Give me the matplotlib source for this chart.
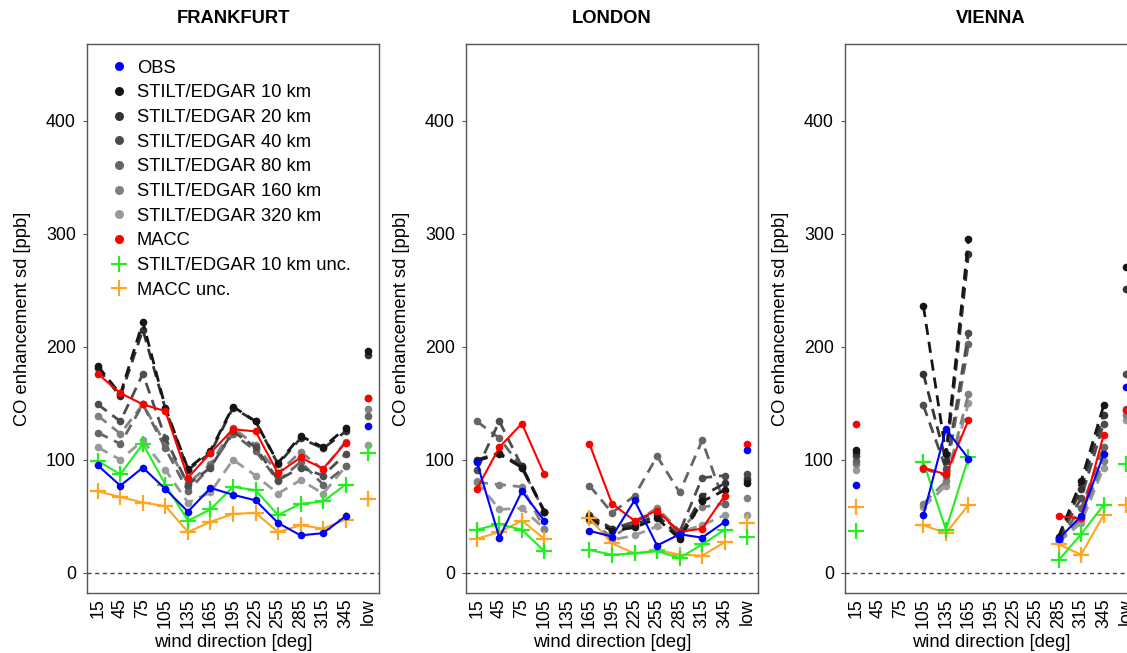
import numpy as np
import matplotlib
matplotlib.use("Agg")
import matplotlib.pyplot as plt
from matplotlib.lines import Line2D

plt.rcParams['font.family'] = ['Liberation Sans', 'DejaVu Sans']

nan = np.nan

# wind direction sectors plus the "low" wind class
directions = ['15', '45', '75', '105', '135', '165', '195', '225', '255', '285', '315', '345', 'low']

# FRANKFURT
fra_obs = [95, 77, 93, 74, 54, 75, 69, 64, 44, 33, 35, 50, 130]
fra_s10 = [183, 158, 222, 146, 92, 108, 147, 134, 97, 121, 111, 128, 196]
fra_s20 = [181, 156, 215, 145, 91, 106, 146, 134, 96, 119, 110, 125, 193]
fra_s40 = [149, 134, 176, 119, 78, 93, 125, 111, 82, 93, 86, 105, 155]
fra_s80 = [124, 114, 149, 110, 72, 94, 123, 108, 81, 98, 78, 94, 139]
fra_s160 = [139, 123, 149, 114, 79, 96, 128, 113, 88, 107, 91, 116, 145]
fra_s320 = [111, 100, 117, 91, 62, 71, 100, 86, 70, 82, 70, 94, 113]
fra_macc = [176, 159, 149, 143, 84, 106, 127, 125, 88, 102, 92, 115, 155]
fra_unc10 = [99, 87, 114, 78, 46, 56, 76, 73, 51, 61, 63, 78, 106]
fra_uncmacc = [72, 67, 62, 59, 36, 45, 52, 53, 36, 42, 39, 47, 65]

# LONDON
lon_obs = [98, 31, 72, 46, nan, 37, 32, 64, 24, 34, 31, 45, 109]
lon_s10 = [99, 105, 93, 54, nan, 48, 37, 40, 48, 30, 63, 73, 79]
lon_s20 = [100, 106, 94, 54, nan, 50, 39, 42, 51, 32, 68, 79, 82]
lon_s40 = [91, 134, 94, 54, nan, 51, 39, 45, 54, 36, 84, 86, 87]
lon_s80 = [134, 119, 93, 54, nan, 77, 53, 68, 103, 71, 117, 61, 84]
lon_s160 = [80, 78, 76, 39, nan, 47, 31, 45, 57, 37, 58, 61, 66]
lon_s320 = [81, 56, 57, 39, nan, 48, 29, 33, 41, 36, 42, 51, 51]
lon_macc = [74, 111, 132, 87, nan, 114, 61, 46, 55, 36, 39, 68, 114]
lon_unc10 = [38, 43, 38, 19, nan, 20, 16, 17, 19, 13, 25, 38, 32]
lon_uncmacc = [30, 36, 46, 30, nan, 48, 26, 17, 20, 16, 15, 27, 44]

# VIENNA
vie_obs = [78, nan, nan, 51, 127, 101, nan, nan, nan, 30, 50, 105, 164]
vie_s10 = [109, nan, nan, 236, 105, 295, nan, nan, nan, 32, 81, 148, 271]
vie_s20 = [106, nan, nan, 176, 99, 282, nan, nan, nan, 31, 74, 140, 251]
vie_s40 = [103, nan, nan, 148, 92, 212, nan, nan, nan, 30, 66, 132, 176]
vie_s80 = [99, nan, nan, 92, 86, 202, nan, nan, nan, 29, 57, 111, 145]
vie_s160 = [96, nan, nan, 61, 81, 158, nan, nan, nan, 28, 48, 99, 140]
vie_s320 = [91, nan, nan, 58, 77, 150, nan, nan, nan, 27, 44, 93, 135]
vie_macc = [132, nan, nan, 93, 87, 135, nan, nan, nan, 50, 48, 122, 144]
vie_unc10 = [37, nan, nan, 98, 38, 102, nan, nan, nan, 11, 34, 60, 96]
vie_uncmacc = [58, nan, nan, 42, 35, 60, nan, nan, nan, 25, 16, 51, 60]

stilt_labels = ['STILT/EDGAR 10 km', 'STILT/EDGAR 20 km', 'STILT/EDGAR 40 km',
                'STILT/EDGAR 80 km', 'STILT/EDGAR 160 km', 'STILT/EDGAR 320 km']
stilt_colors = ['#151515', '#333333', '#4d4d4d', '#666666', '#808080', '#999999']
c_obs = '#0000ff'
c_macc = '#ff0000'
c_unc10 = '#22ee22'
c_uncmacc = '#ffa521'

FS = 13.2
FS_TICK = 12.8


def plot_city(ax, title, obs, stilt, macc, unc10, uncmacc):
    x = np.arange(len(directions))
    xd = x[:-1]  # connected sectors, "low" drawn as single points
    ax.axhline(0, color='#444444', ls=(0, (3, 2.5)), lw=1, zorder=1)

    # STILT runs, coarsest first so that 10 km sits on top
    for vals, col in reversed(list(zip(stilt, stilt_colors))):
        v = np.array(vals, dtype=float)
        ax.plot(xd, v[:-1], color=col, ls=(0, (4, 2.5)), lw=2, marker='o', ms=5.5, mec='none', zorder=3)
        ax.plot(x[-1], v[-1], color=col, marker='o', ms=5.5, mec='none', zorder=3)

    for vals, col in [(uncmacc, c_uncmacc), (unc10, c_unc10)]:
        v = np.array(vals, dtype=float)
        ax.plot(xd, v[:-1], color=col, lw=1.5, marker='+', ms=12, mew=1.6, zorder=4)
        ax.plot(x[-1], v[-1], color=col, marker='+', ms=12, mew=1.6, zorder=4)

    for vals, col in [(macc, c_macc), (obs, c_obs)]:
        v = np.array(vals, dtype=float)
        ax.plot(xd, v[:-1], color=col, lw=1.5, marker='o', ms=5.5, mec='none', zorder=5)
        ax.plot(x[-1], v[-1], color=col, marker='o', ms=5.5, mec='none', zorder=5)

    ax.set_xlim(-0.48, 12.48)
    ax.set_ylim(-18, 468)
    ax.set_xticks(x)
    ax.set_xticklabels(directions, rotation=90, fontsize=FS_TICK)
    ax.set_yticks([0, 100, 200, 300, 400])
    ax.tick_params(axis='y', labelsize=FS_TICK, length=3, width=0.8, pad=5, colors='#555555', labelcolor='black')
    ax.tick_params(axis='x', length=0, pad=4, labelcolor='black')
    for s in ax.spines.values():
        s.set_color('#555555')
        s.set_linewidth(1)
    ax.set_title(title, fontsize=FS, fontweight='bold', pad=15)
    ax.set_xlabel('wind direction [deg]', fontsize=FS, labelpad=4)
    ax.set_ylabel('CO enhancement sd [ppb]', fontsize=FS, labelpad=11)


fig = plt.figure(figsize=(11.27, 6.53), dpi=100)
W, H = 1127, 653
aw, ah = 292, 549
ax1 = fig.add_axes([87 / W, (H - 593) / H, aw / W, ah / H])
ax2 = fig.add_axes([466 / W, (H - 593) / H, aw / W, ah / H])
ax3 = fig.add_axes([845 / W, (H - 593) / H, aw / W, ah / H])

plot_city(ax1, 'FRANKFURT', fra_obs,
          [fra_s10, fra_s20, fra_s40, fra_s80, fra_s160, fra_s320],
          fra_macc, fra_unc10, fra_uncmacc)
plot_city(ax2, 'LONDON', lon_obs,
          [lon_s10, lon_s20, lon_s40, lon_s80, lon_s160, lon_s320],
          lon_macc, lon_unc10, lon_uncmacc)
plot_city(ax3, 'VIENNA', vie_obs,
          [vie_s10, vie_s20, vie_s40, vie_s80, vie_s160, vie_s320],
          vie_macc, vie_unc10, vie_uncmacc)

handles = [Line2D([], [], ls='none', marker='o', ms=6.5, mec='none', color=c_obs)]
handles += [Line2D([], [], ls='none', marker='o', ms=6.5, mec='none', color=c) for c in stilt_colors]
handles += [Line2D([], [], ls='none', marker='o', ms=6.5, mec='none', color=c_macc),
            Line2D([], [], ls='none', marker='+', ms=12, mew=1.5, color=c_unc10),
            Line2D([], [], ls='none', marker='+', ms=12, mew=1.5, color=c_uncmacc)]
labels = ['OBS'] + stilt_labels + ['MACC', 'STILT/EDGAR 10 km unc.', 'MACC unc.']
ax1.legend(handles, labels, loc='upper left', frameon=False, fontsize=FS,
           borderaxespad=0.3, handlelength=1.0, handletextpad=0.45, labelspacing=0.42,
           bbox_to_anchor=(0.035, 0.995))

plt.savefig('out.png', dpi=100)
plt.close(fig)
